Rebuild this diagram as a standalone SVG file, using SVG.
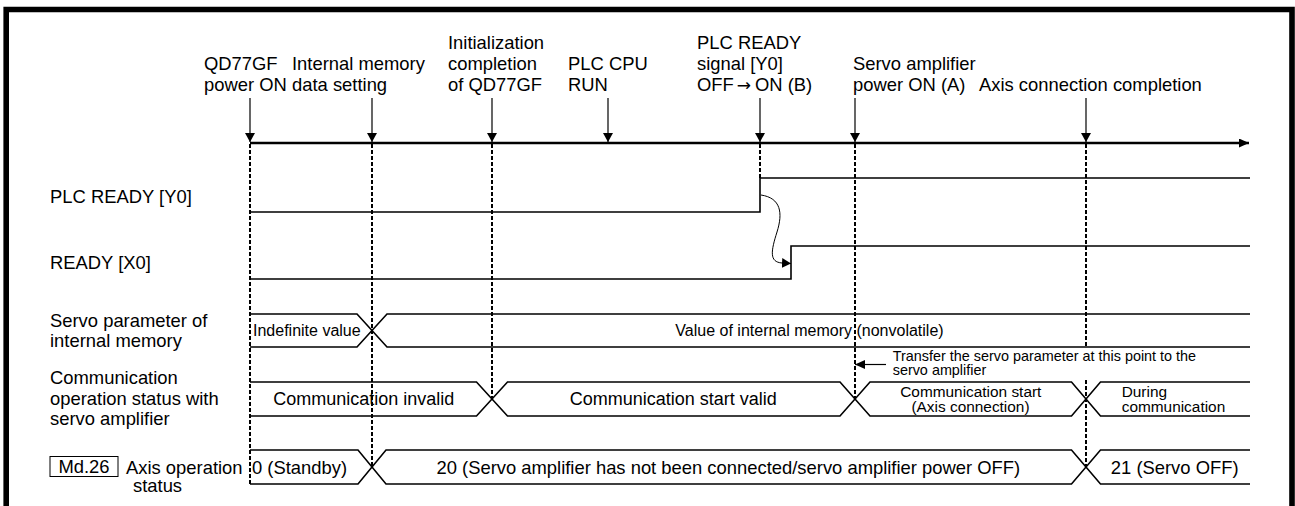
<svg xmlns="http://www.w3.org/2000/svg" width="1295" height="506" viewBox="0 0 1295 506">
<style>
text{font-family:"Liberation Sans",Arial,Helvetica,sans-serif;fill:#000}
.t{font-size:18.4px}
.c{font-size:18px}
.v{font-size:16px}
.s{font-size:15.4px}
.xs{font-size:14.4px}
.m{text-anchor:middle}
.arr{font-family:"DejaVu Sans",sans-serif;font-size:17px}
.sig{fill:none;stroke:#000;stroke-width:1.6}
.dash{fill:none;stroke:#000;stroke-width:2;stroke-dasharray:4 2}
.ev{fill:none;stroke:#000;stroke-width:1.2}
.frame{fill:none;stroke:#000;stroke-width:5.6}
</style>
<defs>
<marker id="ah" viewBox="0 0 9 10" markerWidth="9" markerHeight="10" refX="9" refY="5" orient="auto" markerUnits="userSpaceOnUse"><path d="M0,0 L9,5 L0,10 z" fill="#000"/></marker>
<marker id="ax" viewBox="0 0 10 9" markerWidth="10" markerHeight="9" refX="10" refY="4.5" orient="auto" markerUnits="userSpaceOnUse"><path d="M0,0 L10,4.5 L0,9 z" fill="#000"/></marker>
</defs>
<path class="frame" d="M6.2,506 V9.5 H1292 V506"/>

<g id="event-labels">
<g id="ev-power"><text class="t" x="204" y="70">QD77GF</text><text class="t" x="204" y="90.5">power ON</text></g>
<g id="ev-memory"><text class="t" x="292" y="70">Internal memory</text><text class="t" x="292" y="90.5">data setting</text></g>
<g id="ev-init"><text class="t" x="448" y="49">Initialization</text><text class="t" x="448" y="70">completion</text><text class="t" x="448" y="90.5">of QD77GF</text></g>
<g id="ev-run"><text class="t" x="568" y="70">PLC CPU</text><text class="t" x="568" y="90.5">RUN</text></g>
<g id="ev-plcready"><text class="t" x="697" y="49">PLC READY</text><text class="t" x="697" y="70">signal [Y0]</text><text class="t" x="697" y="90.5">OFF<tspan class="arr" dx="3">→</tspan><tspan dx="4">ON (B)</tspan></text></g>
<g id="ev-servo"><text class="t" x="853" y="70">Servo amplifier</text><text class="t" x="853" y="90.5">power ON (A)</text></g>
<g id="ev-axis"><text class="t" x="979" y="90.5">Axis connection completion</text></g>
</g>

<g id="row-labels">
<g id="lbl-y0"><text class="t" x="50" y="203">PLC READY [Y0]</text></g>
<g id="lbl-x0"><text class="t" x="50" y="269">READY [X0]</text></g>
<g id="lbl-param"><text class="t" x="50" y="326.5">Servo parameter of</text><text class="t" x="50" y="346.5">internal memory</text></g>
<g id="lbl-comm"><text class="t" x="50" y="384">Communication</text><text class="t" x="50" y="404.5">operation status with</text><text class="t" x="50" y="425">servo amplifier</text></g>
<g id="lbl-md26"><rect x="50" y="456.5" width="68" height="20" fill="#fff" stroke="#000" stroke-width="1"/><text class="t m" x="84" y="473">Md.26</text><text class="t" x="126" y="473.5">Axis operation</text><text class="t" x="133" y="492">status</text></g>
</g>

<g id="connectors">
<path d="M250,143 H1249" fill="none" stroke="#000" stroke-width="2.5" marker-end="url(#ax)"/>
<path class="ev" d="M250,98 V142" marker-end="url(#ah)"/>
<path class="ev" d="M372,98 V142" marker-end="url(#ah)"/>
<path class="ev" d="M492,98 V142" marker-end="url(#ah)"/>
<path class="ev" d="M608,98 V142" marker-end="url(#ah)"/>
<path class="ev" d="M760,98 V142" marker-end="url(#ah)"/>
<path class="ev" d="M855,98 V142" marker-end="url(#ah)"/>
<path class="ev" d="M1086,98 V142" marker-end="url(#ah)"/>
<path class="dash" d="M250,144 V484"/>
<path class="dash" d="M372,144 V467"/>
<path class="dash" d="M492,144 V399"/>
<path class="dash" d="M760,144 V178"/>
<path class="dash" d="M855,144 V399"/>
<path class="dash" d="M1086,144 V348 M1086,380 V467"/>
<path d="M761,195 C781,198 783,213 777,232 C771,251 769,262 782,263" fill="none" stroke="#000" stroke-width="1"/>
<path d="M782,263 L791,263.5" fill="none" stroke="#000" stroke-width="1" marker-end="url(#ah)"/>
<path class="ev" d="M886,364.5 H855" marker-end="url(#ax)"/>
</g>

<g id="sig-y0"><path class="sig" d="M250,212 H760 V178 H1250"/></g>
<g id="sig-x0"><path class="sig" d="M250,279 H791 V246 H1250"/></g>

<g id="sig-param">
<path class="sig" d="M250,314 H357 L387,347 H1250"/>
<path class="sig" d="M250,347 H357 L387,314 H1250"/>
<text class="v" x="253" y="336">Indefinite value</text>
<text class="v m" x="809.5" y="336">Value of internal memory (nonvolatile)</text>
</g>

<g id="sig-comm">
<path class="sig" d="M250,382 H476.5 L507.5,416 H840 L870,382 H1071.5 L1100.5,416 H1250"/>
<path class="sig" d="M250,416 H476.5 L507.5,382 H840 L870,416 H1071.5 L1100.5,382 H1250"/>
<text class="c m" x="363.7" y="405">Communication invalid</text>
<text class="c m" x="673.3" y="405">Communication start valid</text>
<text class="s m" x="970.8" y="396.5">Communication start</text>
<text class="s m" x="970.5" y="412">(Axis connection)</text>
<text class="s" x="1121.7" y="396.5">During</text>
<text class="s" x="1121.7" y="412">communication</text>
<text class="xs" x="892.7" y="361">Transfer the servo parameter at this point to the</text>
<text class="xs" x="892.7" y="374.5">servo amplifier</text>
</g>

<g id="sig-md26">
<path class="sig" d="M250,450 H358 L386,484 H1071.5 L1100.5,450 H1250"/>
<path class="sig" d="M250,484 H358 L386,450 H1071.5 L1100.5,484 H1250"/>
<text class="t" x="252" y="473.5">0 (Standby)</text>
<text class="t m" x="728.3" y="473.5">20 (Servo amplifier has not been connected/servo amplifier power OFF)</text>
<text class="t m" x="1174.7" y="473.5">21 (Servo OFF)</text>
</g>
</svg>
